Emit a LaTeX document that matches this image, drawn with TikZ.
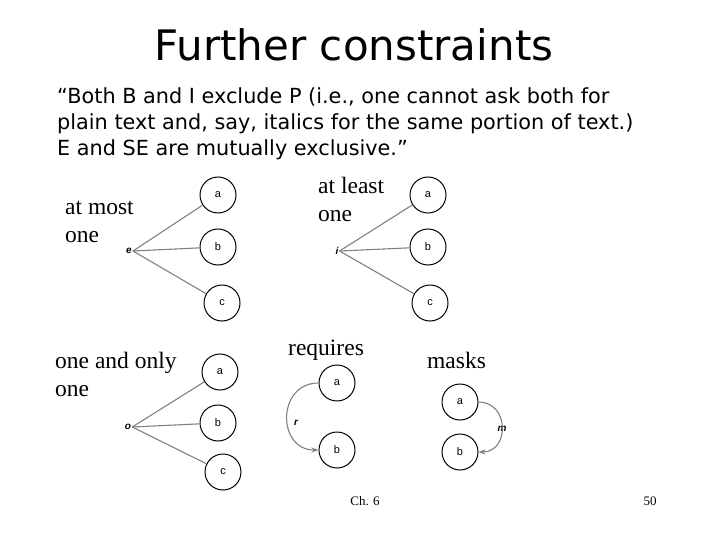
\documentclass[tikz,border=0pt]{standalone}
\usepackage{fontspec}
\setmainfont{Liberation Serif}
\newfontfamily\tah{DejaVu Sans}
\newfontfamily\ars{Liberation Sans}
\usetikzlibrary{arrows.meta}
\begin{document}
\begin{tikzpicture}[x=1pt,y=-1pt,
  cir/.style={draw,circle,line width=1pt,minimum size=36pt,inner sep=0pt,font=\ars\fontsize{11}{13}\selectfont},
  lab/.style={font=\ars\bfseries\itshape\fontsize{10}{12}\selectfont,inner sep=1pt},
  ser/.style={font=\fontsize{23.5}{28}\selectfont,align=left,anchor=north west,inner sep=0pt},
  edge/.style={draw=gray,line width=1.1pt}]
\useasboundingbox (0,0) rectangle (720,540);
\node (title) at (354,45) {\tah\fontsize{42}{48}\selectfont Further constraints};
\node[anchor=north west,align=left,inner sep=0pt,font=\tah\fontsize{20.8}{26}\selectfont] (quote) at (57,87)
 {“Both B and I exclude P (i.e., one cannot ask both for\\plain text and, say, italics for the same portion of text.)\\E and SE are mutually exclusive.”};
% at most
\node[ser] (t1) at (65,201) {at most\\one};
\node[lab] (e) at (129,251) {e};
\node[cir] (ea) at (218,195) {a};
\node[cir] (eb) at (218,247) {b};
\node[cir] (ec) at (222,303) {c};
\foreach \n in {ea,eb,ec} \draw[edge] (e.east) -- (\n);
% at least
\node[ser] (t2) at (318,177) {at least\\one};
\node[lab] (i) at (337,251) {i};
\node[cir] (ia) at (428,195) {a};
\node[cir] (ib) at (428,247) {b};
\node[cir] (ic) at (430,303) {c};
\foreach \n in {ia,ib,ic} \draw[edge] (i.east) -- (\n);
% one and only one
\node[ser] (t3) at (55,352) {one and only\\one};
\node[lab] (o) at (128,427) {o};
\node[cir] (oa) at (220,372) {a};
\node[cir] (ob) at (218,423) {b};
\node[cir] (oc) at (223,472) {c};
\foreach \n in {oa,ob,oc} \draw[edge] (o.east) -- (\n);
% requires
\node[ser] (t4) at (288,340) {requires};
\node[cir] (ra) at (337,383) {a};
\node[cir] (rb) at (337,450) {b};
\node[lab] (r) at (296,423) {r};
\draw[edge,-{Stealth[length=7pt,width=5pt]}] (ra.west) to[out=180,in=180,looseness=1.6] (rb.west);
% masks
\node[ser] (t5) at (427,352) {masks};
\node[cir] (ma) at (460,402) {a};
\node[cir] (mb) at (460,452) {b};
\node[lab] (m) at (502,429) {m};
\draw[edge,-{Stealth[length=7pt,width=5pt]}] (ma.east) to[out=0,in=0,looseness=1.6] (mb.east);
\node[font=\fontsize{13}{15}\selectfont] (ch) at (365,501) {Ch. 6};
\node[font=\fontsize{13}{15}\selectfont] (pg) at (650,501) {50};
\end{tikzpicture}
\end{document}
